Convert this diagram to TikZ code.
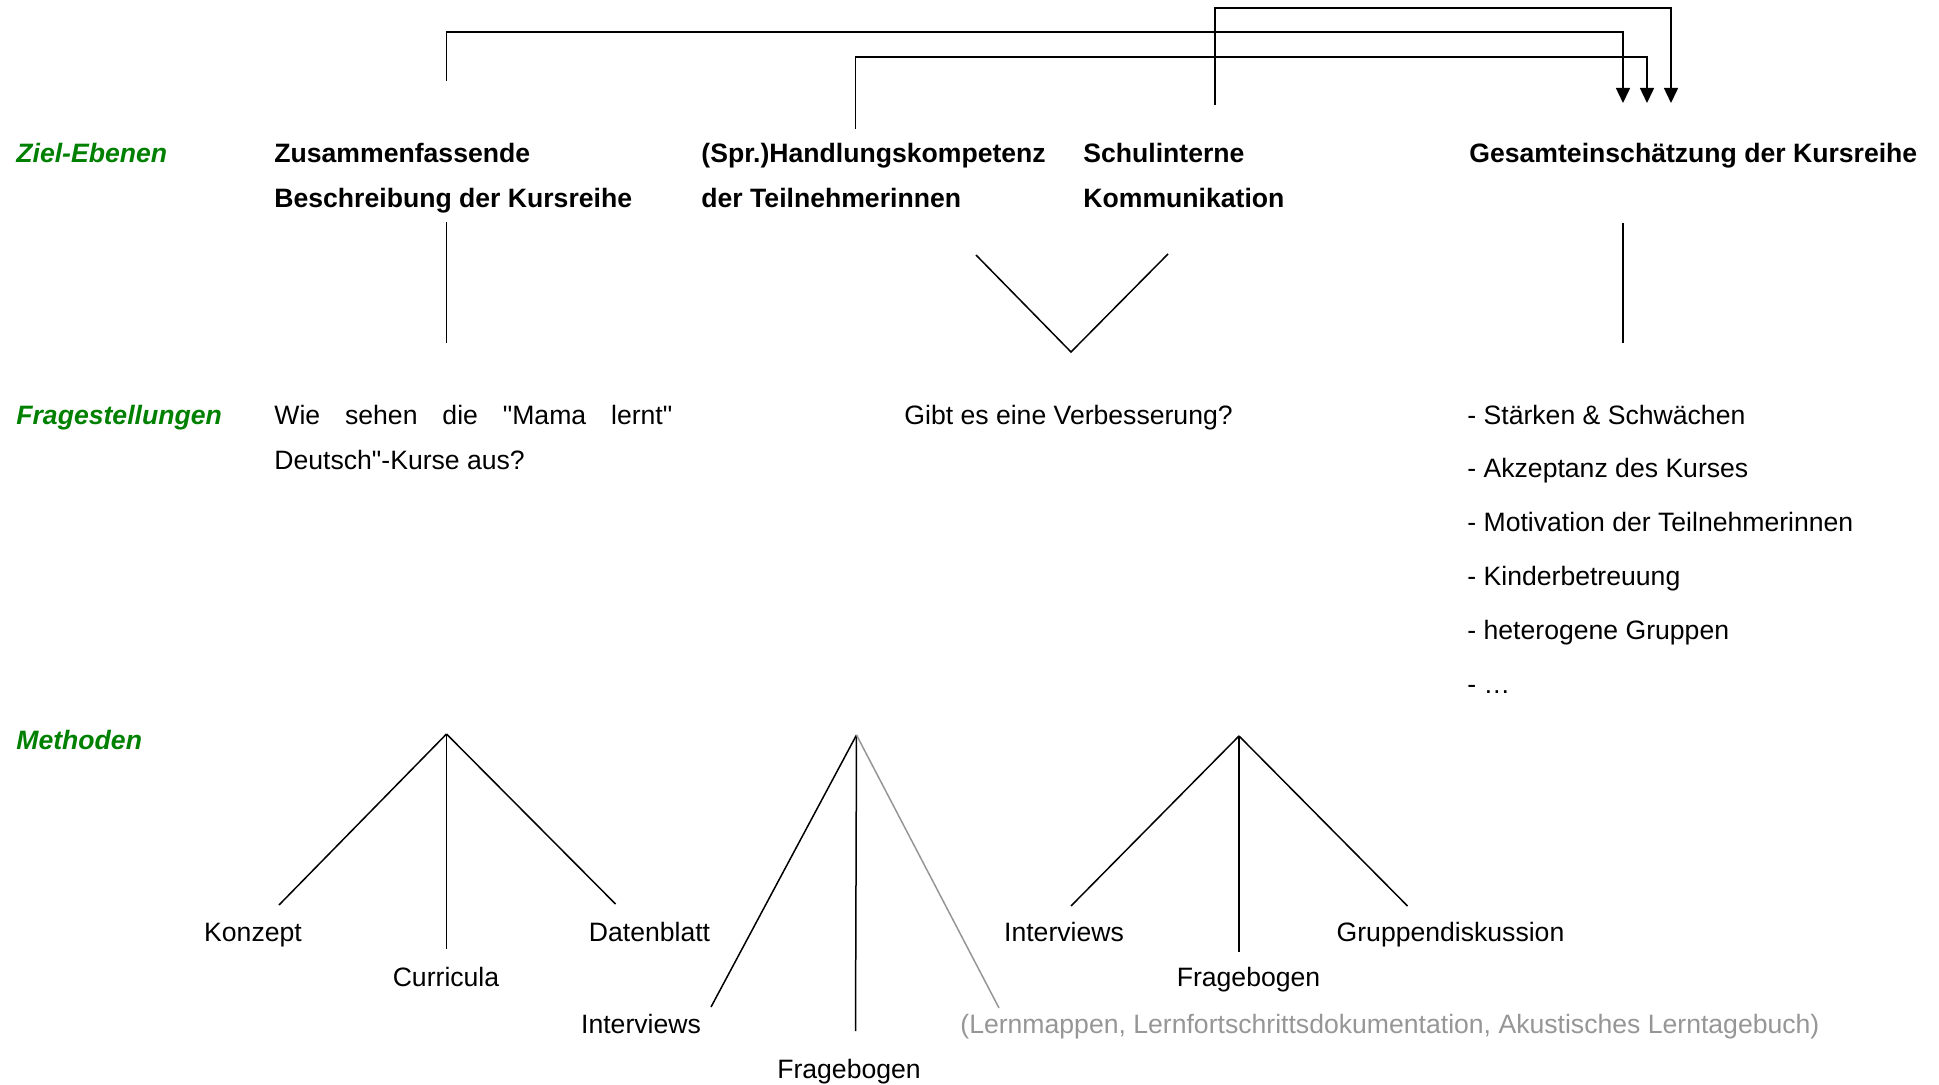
\documentclass[tikz,border=0pt]{standalone}
\usepackage{fontspec}
\setmainfont{Liberation Sans}
\usetikzlibrary{arrows.meta}
\definecolor{levelgreen}{RGB}{0,128,0}
\definecolor{softgray}{RGB}{150,150,150}
\begin{document}
\begin{tikzpicture}[x=0.5pt, y=-0.5pt,
    level/.style={anchor=base west, inner sep=0pt, text=levelgreen, font=\fontsize{13.3}{22.5}\selectfont\bfseries\itshape},
    head/.style={anchor=base west, inner sep=0pt, align=left, font=\fontsize{13.3}{22.5}\selectfont\bfseries},
    plain/.style={anchor=base, inner sep=0pt, font=\fontsize{13.3}{22.5}\selectfont},
    link/.style={line width=0.75pt},
    flow/.style={line width=0.75pt, -{Triangle[length=7.5pt, width=7pt]}}]
    \useasboundingbox (0,0) rectangle (1939,1085);

    % Level labels
    \node[level] (ziel) at (16,163) {Ziel-Ebenen};
    \node[level] (frage) at (16,425) {Fragestellungen};
    \node[level] (methoden) at (16,749) {Methoden};

    % Goal levels (base = last line)
    \node[head] (zus) at (274,208) {Zusammenfassende\\Beschreibung der Kursreihe};
    \node[head] (hdk) at (701,208) {(Spr.)Handlungskompetenz\\der Teilnehmerinnen};
    \node[head] (sch) at (1083,208) {Schulinterne\\Kommunikation};
    \node[head] (ges) at (1469,163) {Gesamteinschätzung der Kursreihe};

    % Questions
    \node[plain, anchor=base west, text width=199pt, align=justify] (mama) at (274,425)
        {Wie sehen die \textquotedbl Mama lernt\textquotedbl\linebreak Deutsch\textquotedbl-Kurse aus?};
    \node[plain, anchor=base west] (verb) at (904,425) {Gibt es eine Verbesserung?};
    \node[plain, anchor=base west, align=left, font=\fontsize{13.3}{26.9}\selectfont] (aspekte) at (1467,693)
        {- Stärken \& Schwächen\\- Akzeptanz des Kurses\\- Motivation der Teilnehmerinnen\\- Kinderbetreuung\\- heterogene Gruppen\\- …};

    % Methods
    \node[plain] (konzept) at (253,941) {Konzept};
    \node[plain] (curricula) at (446,986) {Curricula};
    \node[plain] (datenblatt) at (649.5,941) {Datenblatt};
    \node[plain] (int1) at (641,1033) {Interviews};
    \node[plain] (frb1) at (849,1078) {Fragebogen};
    \node[plain, anchor=base west, text=softgray] (lern) at (960,1033)
        {(Lernmappen, Lernfortschrittsdokumentation, Akustisches Lerntagebuch)};
    \node[plain] (int2) at (1064,941) {Interviews};
    \node[plain] (frb2) at (1248.5,986) {Fragebogen};
    \node[plain] (gruppe) at (1450.5,941) {Gruppendiskussion};

    % Connector ends
    \coordinate (zusTop) at (446.5,81);
    \coordinate (hdkTop) at (855.5,129);
    \coordinate (schTop) at (1215,105);
    \coordinate (gesA) at (1623,103);
    \coordinate (gesB) at (1647,103);
    \coordinate (gesC) at (1671,103);
    \coordinate (zusBot) at (446.5,222);
    \coordinate (zusQ) at (446.5,343);
    \coordinate (gesBot) at (1623,223);
    \coordinate (gesQ) at (1623,343);
    \coordinate (vL) at (976,255);
    \coordinate (vM) at (1071,352);
    \coordinate (vR) at (1168,254);

    \coordinate (t1) at (446.5,734);
    \coordinate (t1a) at (279,905);
    \coordinate (t1b) at (446.5,949);
    \coordinate (t1c) at (615.5,904);
    \coordinate (t2) at (856.5,735);
    \coordinate (t2a) at (711,1007);
    \coordinate (t2b) at (855.5,1031);
    \coordinate (t2c) at (999,1008);
    \coordinate (t3) at (1239,736);
    \coordinate (t3a) at (1071,906);
    \coordinate (t3b) at (1239,952);
    \coordinate (t3c) at (1407.5,906);

    % Arrows into the overall assessment
    \draw[flow] (zusTop) -- (zusTop |- 0,32) -| (gesA);
    \draw[flow] (hdkTop) -- (hdkTop |- 0,57) -| (gesB);
    \draw[flow] (schTop) -- (schTop |- 0,8) -| (gesC);

    % Goals to questions
    \draw[link] (zusBot) -- (zusQ);
    \draw[link] (vL) -- (vM) -- (vR);
    \draw[link] (gesBot) -- (gesQ);

    % Method trees
    \draw[link] (t1) -- (t1a);
    \draw[link] (t1) -- (t1b);
    \draw[link] (t1) -- (t1c);
    \draw[link] (t2) -- (t2a);
    \draw[link] (t2) -- (t2b);
    \draw[link, softgray] (t2) -- (t2c);
    \draw[link] (t3) -- (t3a);
    \draw[link] (t3) -- (t3b);
    \draw[link] (t3) -- (t3c);
\end{tikzpicture}
\end{document}
